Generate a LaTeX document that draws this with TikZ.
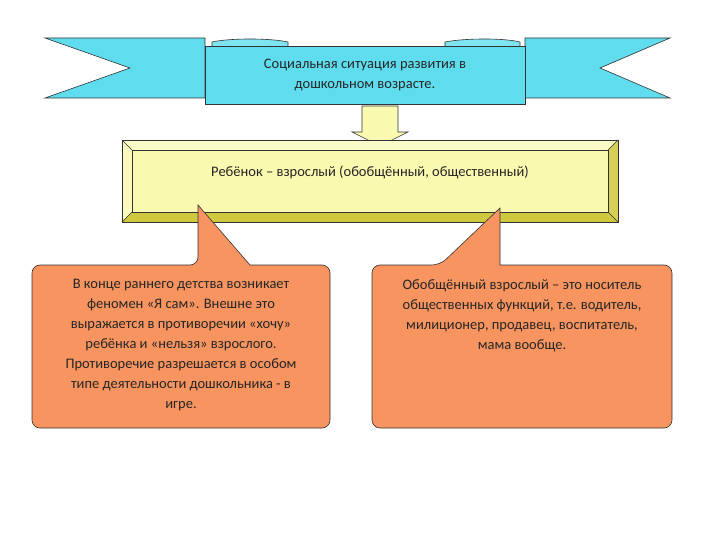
\documentclass[tikz,border=0pt]{standalone}
\usepackage{fontspec}
\setmainfont{Carlito}
\definecolor{cyb}{HTML}{5FDDEE}
\definecolor{org}{HTML}{F7945F}
\definecolor{yel}{HTML}{F9F9B0}
\begin{document}
\begin{tikzpicture}[x=1pt,y=-1pt,
  ln/.style={draw=black!80,line width=0.6pt},
  cy/.style={ln,fill=cyb},
  txt/.style={font=\fontsize{14.5}{20}\selectfont,align=center,text=black!85}]
\useasboundingbox (0,0) rectangle (720,540);
% side ribbons
\draw[cy] (205,38) -- (45,38) -- (130,68) -- (45,98) -- (205,98) -- cycle;
\draw[cy] (525,38) -- (670,38) -- (600,68) -- (670,98) -- (525,98) -- cycle;
% tabs
\draw[cy,fill=cyb!80!white] (212,42) .. controls (230,38) and (270,38) .. (288,42) -- (288,48) -- (212,48) -- cycle;
\draw[cy,fill=cyb!80!white] (445,42) .. controls (465,38) and (505,38) .. (520,42) -- (520,48) -- (445,48) -- cycle;
% central banner
\node[cy,minimum width=320pt,minimum height=58pt,anchor=north west,inner sep=0pt] (ban) at (205,46) {};
\node[txt] (bt) at (365,75) {Социальная ситуация развития в\\дошкольном возрасте.};
% arrow
\draw[ln,fill=yel] (362,106) -- (398,106) -- (398,132) -- (408,132) -- (380,146) -- (352,132) -- (362,132) -- cycle;
% yellow bevel box
\fill[yellow!40!olive!45] (122,140) rectangle (618,222);
\fill[yel!70!white] (122,140) -- (618,140) -- (608,150) -- (132,150) -- cycle;
\fill[yel!80!white] (122,140) -- (132,150) -- (132,212) -- (122,222) -- cycle;
\fill[yellow!40!olive!60] (618,140) -- (608,150) -- (608,212) -- (618,222) -- cycle;
\fill[yellow!40!olive!70] (122,222) -- (132,212) -- (608,212) -- (618,222) -- cycle;
\node[draw=black!80,fill=yel,minimum width=476pt,minimum height=62pt,anchor=north west,inner sep=0pt] (yb) at (132,150) {};
\draw[ln] (122,140) rectangle (618,222);
\draw[ln] (122,140)--(132,150) (618,140)--(608,150) (122,222)--(132,212) (618,222)--(608,212);
\node[txt] (yt) at (370,172) {Ребёнок – взрослый (обобщённый, общественный)};
% callouts
\draw[ln,fill=org,rounded corners=8pt] (32,265) -- (198,265) [sharp corners]-- (198,205) -- (250,265) [rounded corners=8pt] -- (330,265) -- (330,428) -- (32,428) -- cycle;
\draw[ln,fill=org,rounded corners=8pt] (372,265) -- (440,265) [sharp corners]-- (500,208) -- (500,265) [rounded corners=8pt] -- (672,265) -- (672,428) -- (372,428) -- cycle;
\node[txt,anchor=north] (lt) at (181,276) {В конце раннего детства возникает\\феномен «Я сам». Внешне это\\выражается в противоречии «хочу»\\ребёнка и «нельзя» взрослого.\\Противоречие разрешается в особом\\типе деятельности дошкольника - в\\игре.};
\node[txt,anchor=north] (rt) at (522,276) {Обобщённый взрослый – это носитель\\общественных функций, т.е. водитель,\\милиционер, продавец, воспитатель,\\мама вообще.};
\end{tikzpicture}
\end{document}
